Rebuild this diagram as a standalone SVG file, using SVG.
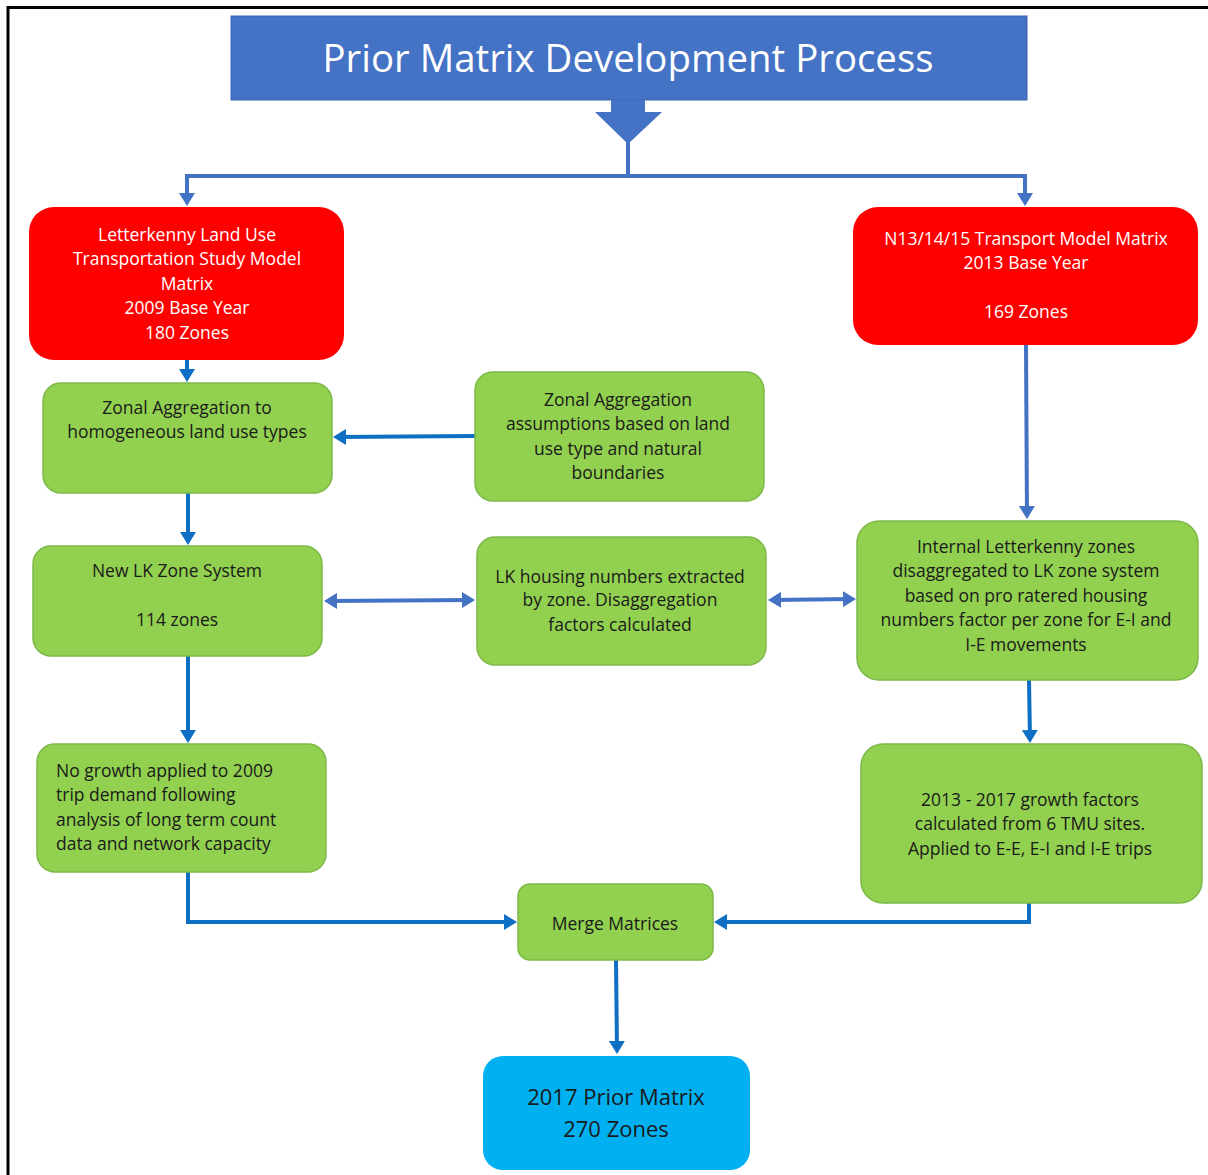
<svg xmlns="http://www.w3.org/2000/svg" width="1208" height="1175" viewBox="0 0 1208 1175">
<style>
.t{font-family:"Open Sans","Liberation Sans",sans-serif;font-size:17.5px;text-anchor:middle}
.w{fill:#ffffff}
.k{fill:#1a1a1a}
.red{fill:#ff0000}
.grn{fill:#92d050;stroke:#7cb848;stroke-width:1.5}
.c1{fill:none;stroke:#4472c4;stroke-width:4}
.c2{fill:none;stroke:#0e6fc4;stroke-width:4}
</style>
<defs>
<marker id="a1" viewBox="0 0 13 16" refX="10" refY="8" markerWidth="13" markerHeight="16" markerUnits="userSpaceOnUse" orient="auto-start-reverse"><path d="M0,0 L13,8 L0,16 Z" fill="#4472c4"/></marker>
<marker id="a2" viewBox="0 0 13 16" refX="10" refY="8" markerWidth="13" markerHeight="16" markerUnits="userSpaceOnUse" orient="auto-start-reverse"><path d="M0,0 L13,8 L0,16 Z" fill="#0e6fc4"/></marker>
</defs>
<rect width="1208" height="1175" fill="#ffffff"/>
<path d="M8,1175 L8,7.5 L1208,7.5" fill="none" stroke="#000" stroke-width="3"/>

<g id="title">
<rect x="231" y="16" width="796" height="84" fill="#4472c4" stroke="#3a64b0" stroke-width="1"/>
<text x="628" y="72" font-family="Open Sans, Liberation Sans, sans-serif" font-size="38" fill="#ffffff" text-anchor="middle" textLength="611" lengthAdjust="spacingAndGlyphs">Prior Matrix Development Process</text>
</g>

<g id="connectors">
<polygon points="611,100 645,100 645,112 662,112 628,144 595,112 611,112" fill="#4472c4"/>
<line x1="628" y1="142" x2="628" y2="176" class="c1"/>
<line x1="185" y1="176" x2="1027" y2="176" class="c1"/>
<line x1="187" y1="176" x2="187" y2="203" class="c1" marker-end="url(#a1)"/>
<line x1="1025" y1="176" x2="1025" y2="203" class="c1" marker-end="url(#a1)"/>
<line x1="187" y1="360" x2="187" y2="379" class="c2" marker-end="url(#a2)"/>
<line x1="475" y1="436" x2="336" y2="437" class="c2" marker-end="url(#a2)"/>
<line x1="188" y1="493" x2="188" y2="542" class="c2" marker-end="url(#a2)"/>
<line x1="327" y1="601" x2="472" y2="600" class="c1" marker-start="url(#a1)" marker-end="url(#a1)"/>
<line x1="771" y1="600" x2="853" y2="599" class="c1" marker-start="url(#a1)" marker-end="url(#a1)"/>
<line x1="1026" y1="345" x2="1027" y2="516" class="c1" marker-end="url(#a1)"/>
<line x1="1029" y1="680" x2="1030" y2="740" class="c2" marker-end="url(#a2)"/>
<line x1="188" y1="656" x2="188" y2="740" class="c2" marker-end="url(#a2)"/>
<polyline points="188,872 188,922 514,922" class="c2" marker-end="url(#a2)"/>
<polyline points="1029,903 1029,922 717,922" class="c2" marker-end="url(#a2)"/>
<line x1="616" y1="960" x2="617" y2="1051" class="c2" marker-end="url(#a2)"/>
</g>

<g id="n_lk_model">
<rect x="29" y="207" width="315" height="153" rx="25" class="red"/>
<text class="t w"><tspan x="187" y="241">Letterkenny Land Use</tspan><tspan x="187" y="265">Transportation Study Model</tspan><tspan x="187" y="290">Matrix</tspan><tspan x="187" y="314">2009 Base Year</tspan><tspan x="187" y="339">180 Zones</tspan></text>
</g>

<g id="n_n13_model">
<rect x="853" y="207" width="345" height="138" rx="25" class="red"/>
<text class="t w"><tspan x="1026" y="245">N13/14/15 Transport Model Matrix</tspan><tspan x="1026" y="269">2013 Base Year</tspan><tspan x="1026" y="318">169 Zones</tspan></text>
</g>

<g id="n_zonal_agg">
<rect x="43" y="383" width="289" height="110" rx="18" class="grn"/>
<text class="t k"><tspan x="187" y="414">Zonal Aggregation to</tspan><tspan x="187" y="438">homogeneous land use types</tspan></text>
</g>

<g id="n_zonal_assump">
<rect x="475" y="372" width="289" height="129" rx="18" class="grn"/>
<text class="t k"><tspan x="618" y="406">Zonal Aggregation</tspan><tspan x="618" y="430">assumptions based on land</tspan><tspan x="618" y="455">use type and natural</tspan><tspan x="618" y="479">boundaries</tspan></text>
</g>

<g id="n_new_lk">
<rect x="33" y="546" width="289" height="110" rx="18" class="grn"/>
<text class="t k"><tspan x="177" y="577">New LK Zone System</tspan><tspan x="177" y="626">114 zones</tspan></text>
</g>

<g id="n_housing">
<rect x="477" y="537" width="289" height="128" rx="18" class="grn"/>
<text class="t k"><tspan x="620" y="583">LK housing numbers extracted</tspan><tspan x="620" y="606">by zone. Disaggregation</tspan><tspan x="620" y="631">factors calculated</tspan></text>
</g>

<g id="n_internal">
<rect x="857" y="521" width="341" height="159" rx="22" class="grn"/>
<text class="t k"><tspan x="1026" y="553">Internal Letterkenny zones</tspan><tspan x="1026" y="577">disaggregated to LK zone system</tspan><tspan x="1026" y="602">based on pro ratered housing</tspan><tspan x="1026" y="626">numbers factor per zone for E-I and</tspan><tspan x="1026" y="651">I-E movements</tspan></text>
</g>

<g id="n_no_growth">
<rect x="37" y="744" width="289" height="128" rx="18" class="grn"/>
<text class="t k" style="text-anchor:start"><tspan x="56" y="777">No growth applied to 2009</tspan><tspan x="56" y="801">trip demand following</tspan><tspan x="56" y="826">analysis of long term count</tspan><tspan x="56" y="850">data and network capacity</tspan></text>
</g>

<g id="n_growth">
<rect x="861" y="744" width="341" height="159" rx="22" class="grn"/>
<text class="t k"><tspan x="1030" y="806">2013 - 2017 growth factors</tspan><tspan x="1030" y="830">calculated from 6 TMU sites.</tspan><tspan x="1030" y="855">Applied to E-E, E-I and I-E trips</tspan></text>
</g>

<g id="n_merge">
<rect x="518" y="884" width="195" height="76" rx="12" class="grn"/>
<text class="t k" x="615" y="930">Merge Matrices</text>
</g>

<g id="n_prior">
<rect x="483" y="1056" width="267" height="114" rx="20" fill="#00b0f0"/>
<text class="t k" style="font-size:22px"><tspan x="616" y="1105">2017 Prior Matrix</tspan><tspan x="616" y="1137">270 Zones</tspan></text>
</g>
</svg>
